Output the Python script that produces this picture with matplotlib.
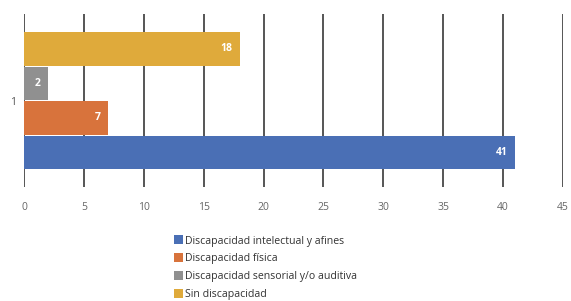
import matplotlib.pyplot as plt
from matplotlib.patches import Patch

# data
categories = ['Discapacidad intelectual y afines', 'Discapacidad física',
              'Discapacidad sensorial y/o auditiva', 'Sin discapacidad']
values = [41, 7, 2, 18]
colors = ['#4a6fb5', '#d8733c', '#909090', '#dfaa3b']
group_label = '1'
x_ticks = list(range(0, 50, 5))

plt.rcParams['font.family'] = ['Open Sans', 'DejaVu Sans']

fig = plt.figure(figsize=(5.71, 3.01), dpi=100)
ax = fig.add_axes([0.042, 0.379, 0.944, 0.574])

ypos = list(range(len(values)))
bars = ax.barh(ypos, values, height=0.98, color=colors, zorder=3)

for b, v in zip(bars, values):
    ax.text(b.get_width() - 0.6, b.get_y() + b.get_height() / 2, str(v),
            ha='right', va='center', color='white', fontsize=7.5,
            fontweight='bold', zorder=4)

ax.set_xlim(0, 45)
ax.set_ylim(-1.0, 4.01)
ax.set_xticks(x_ticks)
ax.set_xticklabels([str(t) for t in x_ticks], fontsize=7.5, color='#666666')
ax.set_yticks([1.5])
ax.set_yticklabels([group_label], fontsize=7.5, color='#555555')
ax.tick_params(length=0, pad=11)
ax.tick_params(axis='y', pad=6)
ax.grid(axis='x', color='#555555', linewidth=1.4, zorder=1)
ax.set_axisbelow(True)
for s in ax.spines.values():
    s.set_visible(False)

handles = [Patch(facecolor=c, edgecolor='none') for c in colors]
fig.legend(handles, categories, loc='upper left', bbox_to_anchor=(0.298, 0.232),
           frameon=False, fontsize=7.6, handlelength=0.85, handleheight=0.95,
           handletextpad=0.2, labelspacing=0.62, borderaxespad=0,
           labelcolor='#333333')

fig.savefig('out.png', dpi=100, facecolor='white')
